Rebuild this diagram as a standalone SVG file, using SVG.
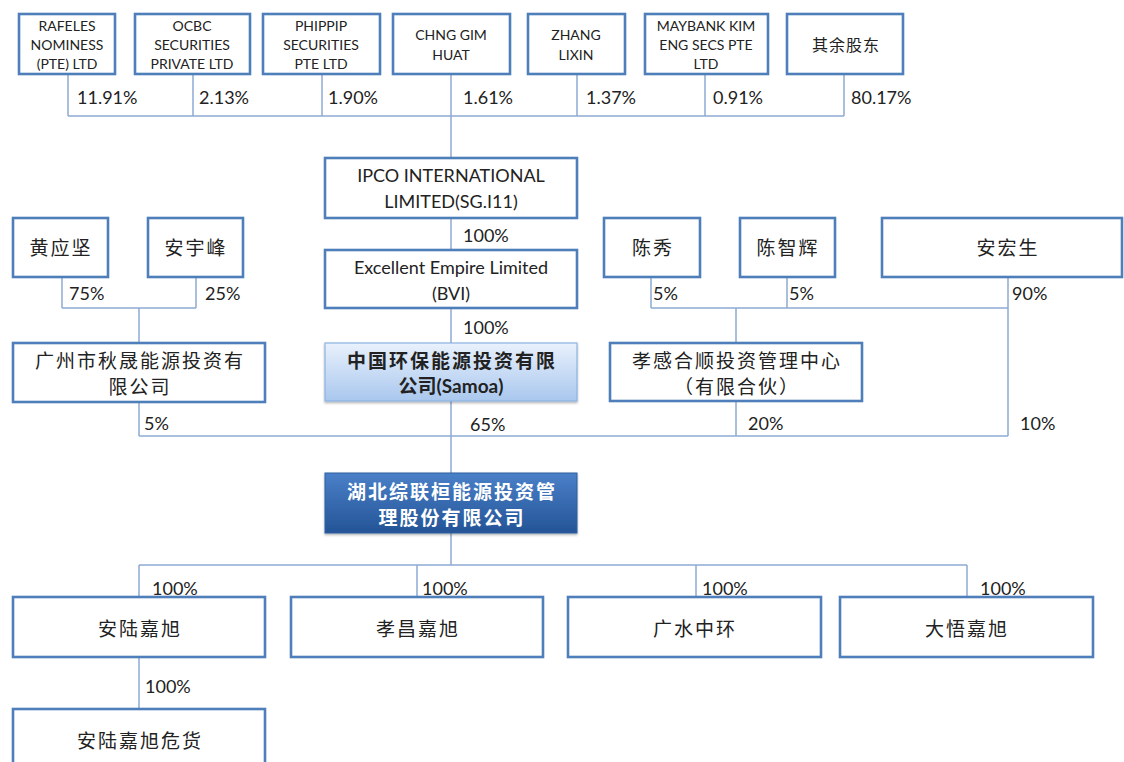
<svg xmlns="http://www.w3.org/2000/svg" width="1124" height="762" viewBox="0 0 1124 762">
<defs>
<linearGradient id="gLight" x1="0" y1="0" x2="0" y2="1">
<stop offset="0" stop-color="#e9f1fc"/>
<stop offset="1" stop-color="#a9c7ee"/>
</linearGradient>
<linearGradient id="gDark" x1="0" y1="0" x2="0" y2="1">
<stop offset="0" stop-color="#4a80c8"/>
<stop offset="1" stop-color="#245497"/>
</linearGradient>
<filter id="sh" x="-5%" y="-5%" width="110%" height="120%">
<feDropShadow dx="0" dy="1.5" stdDeviation="1.2" flood-color="#000" flood-opacity="0.3"/>
</filter>
</defs>
<style>
text{font-family:Lato,"Noto Sans CJK SC",sans-serif;fill:#222;}
.b{fill:#fff;stroke:#4f7fba;stroke-width:2.6;}
.t{font-size:14px;text-anchor:middle;dominant-baseline:central;}
.m{font-size:18px;text-anchor:middle;dominant-baseline:central;}
.c{font-size:19px;letter-spacing:2px;text-anchor:middle;dominant-baseline:central;font-family:"Noto Sans CJK SC",sans-serif;}
.p{font-size:18px;dominant-baseline:central;}
.ln{fill:none;stroke:#8eabd4;stroke-width:1.5;}
.bw{font-weight:bold;}
</style>
<rect width="1124" height="762" fill="#fff"/>
<g id="connectors">
<path class="ln" d="M68 74V116M193 74V116M322 74V116M451 74V158M577 74V116M705 74V116M844 74V116M68 116H844"/>
<path class="ln" d="M451 218V250M451 308V343M451 401V473M451 533V565"/>
<path class="ln" d="M62 277V308M196 277V308M62 308H196M139 308V343M139 402V436"/>
<path class="ln" d="M651 277V308M787 277V308M1008 277V436M651 308H1008M736 308V343M736 401V436"/>
<path class="ln" d="M139 436H1008"/>
<path class="ln" d="M139 565H967M139 565V597M417 565V597M696 565V597M967 565V597M139 657V709"/>
</g>
<g id="labels">
<text class="p" x="77" y="97">11.91%</text>
<text class="p" x="199" y="97">2.13%</text>
<text class="p" x="328" y="97">1.90%</text>
<text class="p" x="463" y="97">1.61%</text>
<text class="p" x="586" y="97">1.37%</text>
<text class="p" x="713" y="97">0.91%</text>
<text class="p" x="851" y="97">80.17%</text>
<text class="p" x="463" y="235">100%</text>
<text class="p" x="463" y="327">100%</text>
<text class="p" x="69" y="293">75%</text>
<text class="p" x="205" y="293">25%</text>
<text class="p" x="653" y="293">5%</text>
<text class="p" x="789" y="293">5%</text>
<text class="p" x="1012" y="293">90%</text>
<text class="p" x="144" y="423">5%</text>
<text class="p" x="470" y="424">65%</text>
<text class="p" x="748" y="423">20%</text>
<text class="p" x="1020" y="423">10%</text>
<text class="p" x="152" y="588">100%</text>
<text class="p" x="422" y="588">100%</text>
<text class="p" x="702" y="588">100%</text>
<text class="p" x="980" y="588">100%</text>
<text class="p" x="145" y="686">100%</text>
</g>
<g id="n1"><rect class="b" x="19" y="14" width="96" height="60"/><text class="t" x="67" y="25">RAFELES</text><text class="t" x="67" y="44">NOMINESS</text><text class="t" x="67" y="63">(PTE) LTD</text></g>
<g id="n2"><rect class="b" x="135" y="14" width="115" height="60"/><text class="t" x="192" y="25">OCBC</text><text class="t" x="192" y="44">SECURITIES</text><text class="t" x="192" y="63">PRIVATE LTD</text></g>
<g id="n3"><rect class="b" x="263" y="14" width="117" height="60"/><text class="t" x="321" y="25">PHIPPIP</text><text class="t" x="321" y="44">SECURITIES</text><text class="t" x="321" y="63">PTE LTD</text></g>
<g id="n4"><rect class="b" x="393" y="14" width="117" height="60"/><text class="t" x="451" y="34">CHNG GIM</text><text class="t" x="451" y="54">HUAT</text></g>
<g id="n5"><rect class="b" x="528" y="14" width="97" height="60"/><text class="t" x="576" y="34">ZHANG</text><text class="t" x="576" y="54">LIXIN</text></g>
<g id="n6"><rect class="b" x="645" y="14" width="123" height="60"/><text class="t" x="706" y="25">MAYBANK KIM</text><text class="t" x="706" y="44">ENG SECS PTE</text><text class="t" x="706" y="63">LTD</text></g>
<g id="n7"><rect class="b" x="787" y="14" width="116" height="60"/><text class="c" x="846" y="44" style="font-size:16px;letter-spacing:1px">其余股东</text></g>
<g id="ipco"><rect class="b" x="325" y="158" width="252" height="60"/><text class="m" x="451" y="175">IPCO INTERNATIONAL</text><text class="m" x="451" y="201">LIMITED(SG.I11)</text></g>
<g id="excellent"><rect class="b" x="325" y="250" width="252" height="58"/><text class="m" x="451" y="267">Excellent Empire Limited</text><text class="m" x="451" y="293">(BVI)</text></g>
<g id="samoa"><rect x="325" y="343" width="252" height="58" fill="url(#gLight)" stroke="#8db3e2" stroke-width="1.2" filter="url(#sh)"/><text class="c bw" x="452" y="359">中国环保能源投资有限</text><text class="m bw" x="451" y="385" style="font-size:19px">公司(Samoa)</text></g>
<g id="hubei"><rect x="325" y="473" width="252" height="60" fill="url(#gDark)" stroke="#2f5f9f" stroke-width="1" filter="url(#sh)"/><text class="c bw" x="452" y="490" style="fill:#fff">湖北综联桓能源投资管</text><text class="c bw" x="452" y="516" style="fill:#fff">理股份有限公司</text></g>
<g id="huang"><rect class="b" x="13" y="218" width="95" height="59"/><text class="c" x="61" y="246">黄应坚</text></g>
<g id="anyufeng"><rect class="b" x="148" y="218" width="95" height="59"/><text class="c" x="196" y="246">安宇峰</text></g>
<g id="guangzhou"><rect class="b" x="13" y="343" width="252" height="59"/><text class="c" x="140" y="359">广州市秋晟能源投资有</text><text class="c" x="140" y="385">限公司</text></g>
<g id="chenxiu"><rect class="b" x="604" y="218" width="96" height="59"/><text class="c" x="653" y="246">陈秀</text></g>
<g id="chenzhihui"><rect class="b" x="740" y="218" width="95" height="59"/><text class="c" x="788" y="246">陈智辉</text></g>
<g id="anhongsheng"><rect class="b" x="882" y="218" width="240" height="59"/><text class="c" x="1008" y="246">安宏生</text></g>
<g id="xiaogan"><rect class="b" x="610" y="343" width="252" height="58"/><text class="c" x="737" y="359">孝感合顺投资管理中心</text><text class="c" x="737" y="385">（有限合伙）</text></g>
<g id="anlu"><rect class="b" x="13" y="597" width="252" height="60"/><text class="c" x="140" y="627">安陆嘉旭</text></g>
<g id="xiaochang"><rect class="b" x="291" y="597" width="252" height="60"/><text class="c" x="418" y="627">孝昌嘉旭</text></g>
<g id="guangshui"><rect class="b" x="568" y="597" width="253" height="60"/><text class="c" x="695" y="627">广水中环</text></g>
<g id="dawu"><rect class="b" x="840" y="597" width="253" height="60"/><text class="c" x="967" y="627">大悟嘉旭</text></g>
<g id="anluwh"><rect class="b" x="13" y="709" width="252" height="62"/><text class="c" x="140" y="739">安陆嘉旭危货</text></g>
</svg>
